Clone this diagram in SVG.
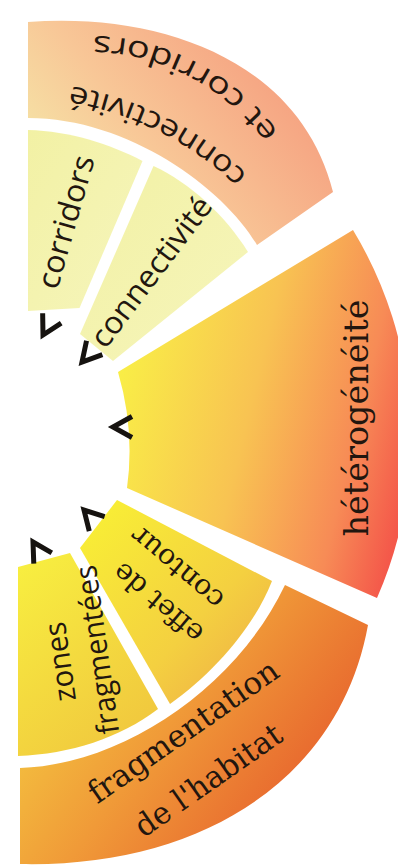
<svg xmlns="http://www.w3.org/2000/svg" width="398" height="866" viewBox="0 0 398 866">
<defs>
<linearGradient id="gTopRing" x1="0" y1="0.9" x2="1" y2="0.3">
<stop offset="0" stop-color="#f4f1ad"/>
<stop offset="0.45" stop-color="#f8c797"/>
<stop offset="1" stop-color="#f59a7c"/>
</linearGradient>
<linearGradient id="gPale" x1="0" y1="0" x2="1" y2="1">
<stop offset="0" stop-color="#f2f1a4"/>
<stop offset="1" stop-color="#f6f5bc"/>
</linearGradient>
<linearGradient id="gHet" x1="0" y1="0.35" x2="1" y2="0.65">
<stop offset="0" stop-color="#f9ef46"/>
<stop offset="0.45" stop-color="#f8c352"/>
<stop offset="0.8" stop-color="#f78b56"/>
<stop offset="1" stop-color="#f4584a"/>
</linearGradient>
<linearGradient id="gZones" x1="0" y1="0" x2="0.6" y2="1">
<stop offset="0" stop-color="#f8f040"/>
<stop offset="1" stop-color="#f1c93e"/>
</linearGradient>
<linearGradient id="gEffet" x1="0" y1="0" x2="1" y2="1">
<stop offset="0" stop-color="#f9f234"/>
<stop offset="0.6" stop-color="#f4d040"/>
<stop offset="1" stop-color="#eea848"/>
</linearGradient>
<linearGradient id="gBotRing" x1="0" y1="0.2" x2="1" y2="0.8">
<stop offset="0" stop-color="#f5d242"/>
<stop offset="0.45" stop-color="#f09a38"/>
<stop offset="1" stop-color="#e4502a"/>
</linearGradient>
<path id="tpA" d="M253,199 C213,149 133,104 53,96"/>
<path id="tpB" d="M281,158 C246,98 171,43 76,48"/>
<path id="chev" d="M19,-10.5 L0,0 L19,10.5"/>
<style>
.sans{font-family:"Open Sans","Noto Sans",sans-serif;fill:#22160f;}
.serif{font-family:"DejaVu Serif","Liberation Serif",serif;fill:#22160f;}
.mid{text-anchor:middle;dominant-baseline:central;}
.chev{fill:none;stroke:#161310;stroke-width:5;stroke-linejoin:miter;}
</style>
</defs>
<rect width="398" height="866" fill="#ffffff"/>

<g id="connectivite-corridors">
<path d="M28,22 C160,12 300,60 333,192 L257,245 C225,190 130,118 28,118 Z" fill="url(#gTopRing)"/>
<text class="sans mid" font-size="30"><textPath href="#tpA" startOffset="51%" textLength="194" lengthAdjust="spacingAndGlyphs">connectivité</textPath></text>
<text class="sans mid" font-size="30"><textPath href="#tpB" startOffset="51%" textLength="206" lengthAdjust="spacingAndGlyphs">et corridors</textPath></text>
</g>

<g id="corridors">
<path d="M28,130 C70,131 110,144 142.5,161 L79.5,308 L28,311 Z" fill="url(#gPale)"/>
<text class="sans mid" font-size="31" transform="translate(64.5,221.5) rotate(-74)" textLength="137" lengthAdjust="spacingAndGlyphs">corridors</text>
</g>

<g id="connectivite">
<path d="M153.5,166 C190,183 225,215 248,252 L113,361 L80,334 Z" fill="url(#gPale)"/>
<text class="sans mid" font-size="31" transform="translate(150,271) rotate(-53)" textLength="180" lengthAdjust="spacingAndGlyphs">connectivité</text>
</g>

<g id="heterogeneite">
<path d="M353,230 A400,400 0 0 1 377,598 L127,488 Q135,430 118,372 Z" fill="url(#gHet)"/>
<text class="serif mid" font-size="33" transform="translate(356,418) rotate(-90)" textLength="237" lengthAdjust="spacingAndGlyphs">hétérogénéité</text>
</g>

<g id="effet-contour">
<path d="M117,500 L272,581 C255,625 215,672 170,704 L80,548 Z" fill="url(#gEffet)"/>
<text class="serif mid" font-size="28" transform="translate(158,603) rotate(220)" textLength="108" lengthAdjust="spacingAndGlyphs">effet de</text>
<text class="serif mid" font-size="28" transform="translate(177,568) rotate(220)" textLength="112" lengthAdjust="spacingAndGlyphs">contour</text>
</g>

<g id="zones-fragmentees">
<path d="M18,567 L70,553 L158,709 C120,738 70,754 18,756 Z" fill="url(#gZones)"/>
<text class="sans mid" font-size="30" transform="translate(59,662) rotate(-98)" textLength="80" lengthAdjust="spacingAndGlyphs">zones</text>
<text class="sans mid" font-size="30" transform="translate(96,650) rotate(-98)" textLength="170" lengthAdjust="spacingAndGlyphs">fragmentées</text>
</g>

<g id="fragmentation-habitat">
<path d="M368,625 C340,780 200,868 20,864 L20,768 C120,765 235,690 285,585 Z" fill="url(#gBotRing)"/>
<text class="serif mid" font-size="31" transform="translate(183,731) rotate(-35)" textLength="225" lengthAdjust="spacingAndGlyphs">fragmentation</text>
<text class="serif mid" font-size="31" transform="translate(208,780) rotate(-35)" textLength="172" lengthAdjust="spacingAndGlyphs">de l'habitat</text>
</g>

<g id="connectors">
<use href="#chev" class="chev" transform="translate(43,335) rotate(-62)"/>
<use href="#chev" class="chev" transform="translate(82,362) rotate(-49)"/>
<use href="#chev" class="chev" transform="translate(113,427)"/>
<use href="#chev" class="chev" transform="translate(84,510) rotate(47)"/>
<use href="#chev" class="chev" transform="translate(33,542) rotate(59)"/>
</g>
</svg>
